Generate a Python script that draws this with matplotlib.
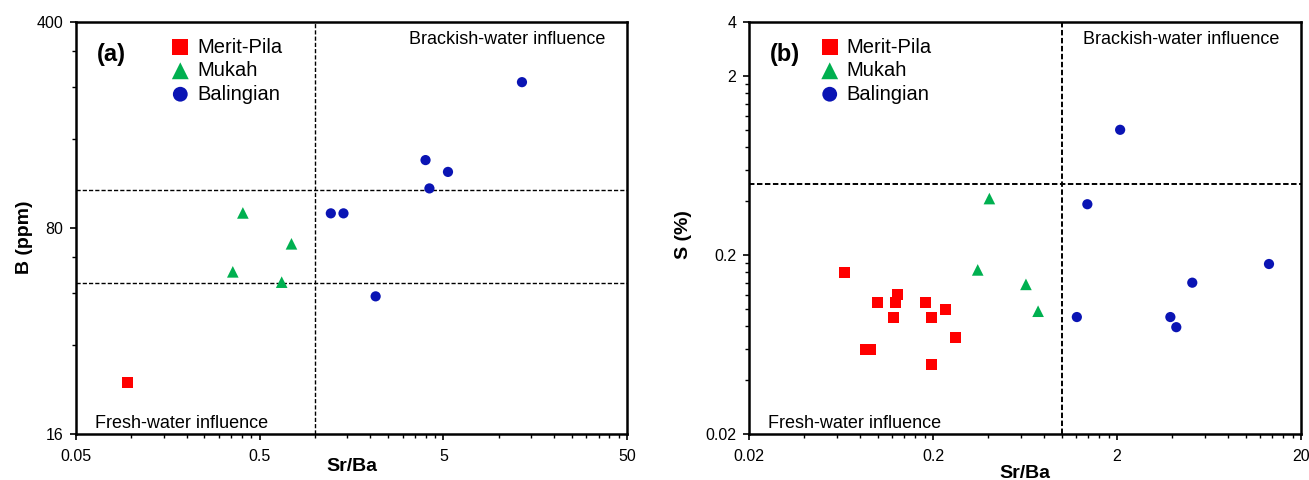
import matplotlib

matplotlib.use("Agg")
import matplotlib.pyplot as plt
from matplotlib.ticker import FixedLocator, FixedFormatter, NullFormatter

plt.rcParams["font.family"] = ["Liberation Sans", "DejaVu Sans"]

SERIES = ["Merit-Pila", "Mukah", "Balingian"]

# panel (a): Sr/Ba vs B (ppm)
a_merit_x = [0.095]
a_merit_y = [24]
a_mukah_x = [0.405, 0.745, 0.357, 0.659]
a_mukah_y = [90, 70.7, 56.8, 52.4]
a_baling_x = [13.4, 4.0, 5.3, 4.2, 1.22, 1.43, 2.14]
a_baling_y = [250, 136, 124, 109, 89.7, 89.7, 46.9]
a_xlim = (0.05, 50)
a_ylim = (16, 400)
a_xticks = [0.05, 0.5, 5, 50]
a_xticklabels = ["0.05", "0.5", "5", "50"]
a_yticks = [16, 80, 400]
a_yticklabels = ["16", "80", "400"]
a_vline = 1.0
a_hlines = [108, 52]

# panel (b): Sr/Ba vs S (%)
b_merit_x = [0.066, 0.100, 0.125, 0.128, 0.122, 0.182, 0.197, 0.234, 0.265, 0.086, 0.092, 0.197]
b_merit_y = [0.160, 0.108, 0.108, 0.120, 0.089, 0.108, 0.089, 0.099, 0.069, 0.059, 0.059, 0.049]
b_mukah_x = [0.405, 0.35, 0.64, 0.745]
b_mukah_y = [0.413, 0.165, 0.137, 0.097]
b_baling_x = [2.08, 1.38, 1.21, 3.9, 4.2, 5.13, 13.4]
b_baling_y = [1.0, 0.384, 0.09, 0.09, 0.079, 0.14, 0.178]
b_xlim = (0.02, 20)
b_ylim = (0.02, 4)
b_xticks = [0.02, 0.2, 2, 20]
b_xticklabels = ["0.02", "0.2", "2", "20"]
b_yticks = [0.02, 0.2, 2, 4]
b_yticklabels = ["0.02", "0.2", "2", "4"]
b_vline = 1.0
b_hlines = [0.5]

STYLE = {
    "Merit-Pila": dict(marker="s", color="#FF0000", s=62),
    "Mukah": dict(marker="^", color="#00B050", s=70),
    "Balingian": dict(marker="o", color="#0A14B4", s=54),
}


def minor_positions(majors, lo, hi):
    out = []
    for m in majors:
        for k in range(2, 10):
            v = m * k
            if lo < v < hi and v not in majors:
                out.append(v)
    return out


def draw_panel(ax, tag, points, xlim, ylim, xticks, xticklabels, yticks, yticklabels,
               yminor, vline, hlines, ylabel, dash, legend_x, ylabel_coords, xlabel_y):
    ax.set_xscale("log")
    ax.set_yscale("log")
    for name, (xs, ys) in zip(SERIES, points):
        st = STYLE[name]
        ax.scatter(xs, ys, marker=st["marker"], c=st["color"], s=st["s"],
                   edgecolors="none", label=name, zorder=3)

    lw, pattern = dash
    ax.axvline(vline, color="black", lw=lw, linestyle=(0, pattern), zorder=2)
    for h in hlines:
        ax.axhline(h, color="black", lw=lw, linestyle=(0, pattern), zorder=2)

    ax.set_xlim(*xlim)
    ax.set_ylim(*ylim)
    ax.xaxis.set_major_locator(FixedLocator(xticks))
    ax.xaxis.set_major_formatter(FixedFormatter(xticklabels))
    ax.xaxis.set_minor_locator(FixedLocator(minor_positions(xticks, *xlim)))
    ax.xaxis.set_minor_formatter(NullFormatter())
    ax.yaxis.set_major_locator(FixedLocator(yticks))
    ax.yaxis.set_major_formatter(FixedFormatter(yticklabels))
    ax.yaxis.set_minor_locator(FixedLocator(yminor))
    ax.yaxis.set_minor_formatter(NullFormatter())

    ax.tick_params(axis="both", which="major", direction="out", length=4, width=1.2,
                   labelsize=11.5)
    ax.tick_params(axis="both", which="minor", direction="out", length=3, width=1.0)
    ax.tick_params(axis="x", which="major", pad=7)
    ax.tick_params(axis="y", which="major", pad=5)
    for spine in ax.spines.values():
        spine.set_linewidth(1.8)

    ax.set_xlabel("Sr/Ba", fontsize=14, fontweight="bold")
    ax.xaxis.set_label_coords(0.5, xlabel_y)
    ax.set_ylabel(ylabel, fontsize=14, fontweight="bold")
    ax.yaxis.set_label_coords(*ylabel_coords)

    ax.text(0.065, 0.922, tag, transform=ax.transAxes, fontsize=17, fontweight="bold",
            ha="center", va="center")
    ax.text(0.96, 0.957, "Brackish-water influence", transform=ax.transAxes,
            fontsize=13, ha="right", va="center")
    ax.text(0.035, 0.026, "Fresh-water influence", transform=ax.transAxes,
            fontsize=13, ha="left", va="center")

    ax.legend(loc="upper left", bbox_to_anchor=(legend_x, 0.962), frameon=False,
              fontsize=14.5, markerscale=1.45, handlelength=1.0, handletextpad=0.35,
              labelspacing=0.22, borderpad=0, borderaxespad=0, scatterpoints=1)


fig = plt.figure(figsize=(13.09, 4.8), dpi=100)
ax_a = fig.add_axes([76 / 1309, 46 / 480, 551 / 1309, 412 / 480])
ax_b = fig.add_axes([749 / 1309, 46 / 480, 552 / 1309, 412 / 480])

draw_panel(
    ax_a, "(a)",
    [(a_merit_x, a_merit_y), (a_mukah_x, a_mukah_y), (a_baling_x, a_baling_y)],
    a_xlim, a_ylim, a_xticks, a_xticklabels, a_yticks, a_yticklabels,
    [32, 48, 64, 160, 240, 320],
    a_vline, a_hlines, "B (ppm)", (1.0, (3, 1.5)), 0.171, (-0.078, 0.478), -0.058,
)
draw_panel(
    ax_b, "(b)",
    [(b_merit_x, b_merit_y), (b_mukah_x, b_mukah_y), (b_baling_x, b_baling_y)],
    b_xlim, b_ylim, b_xticks, b_xticklabels, b_yticks, b_yticklabels,
    minor_positions([0.02, 0.2, 2], *b_ylim),
    b_vline, b_hlines, "S (%)", (1.4, (2.8, 1.3)), 0.128, (-0.103, 0.483), -0.075,
)

fig.savefig("out.png", dpi=100)
